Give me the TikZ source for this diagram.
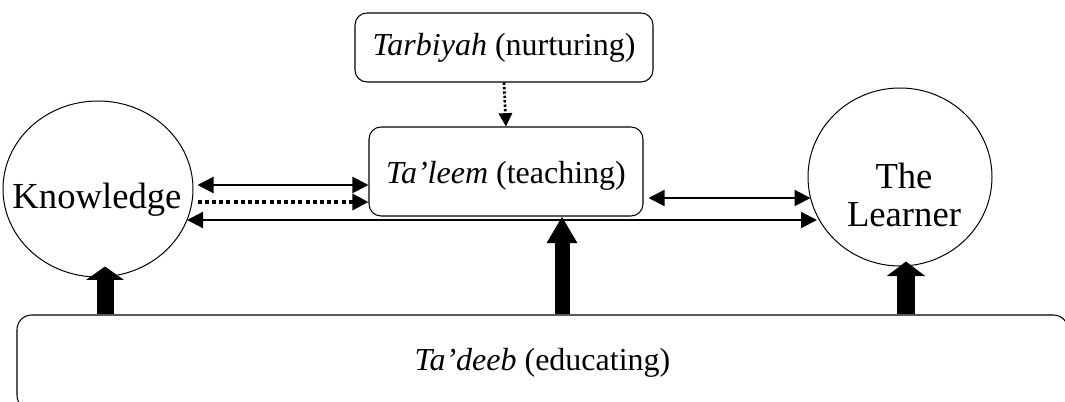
\documentclass[tikz,border=0pt]{standalone}
\usepackage{fontspec}
\setmainfont{Liberation Serif}
\usetikzlibrary{arrows.meta,shapes.geometric,calc}
\begin{document}
\begin{tikzpicture}[x=0.75pt,y=-0.75pt,
  conceptbox/.style={draw, line width=0.8pt, rounded corners=9pt, inner sep=0pt,
    font=\fontsize{24}{28}\selectfont},
  roundel/.style={draw, ellipse, line width=0.75pt, inner sep=0pt},
  roundeltext/.style={font=\fontsize{27.5}{29}\selectfont, align=center, inner sep=0pt},
  twoway/.style={line width=1.6pt, {Triangle[length=12pt,width=12pt]}-{Triangle[length=12pt,width=12pt]}},
  dotlink/.style={line width=2.4pt, dash pattern=on 3pt off 2.4pt,
    -{Triangle[length=12pt,width=12pt]}},
  vdotlink/.style={line width=2pt, dash pattern=on 1.8pt off 1.5pt,
    -{Triangle[length=10pt,width=10pt]}}
]
\useasboundingbox (0,0) rectangle (1065,402);
\clip (0,0) rectangle (1065,402);

% concepts
\node[conceptbox, rounded corners=11pt, minimum width={1051*0.75pt}, minimum height={95*0.75pt}]
  (tadeeb) at (542.5,362.5) {\textit{Ta’deeb} (educating)};
\node[conceptbox, minimum width={274*0.75pt}, minimum height={89*0.75pt},
  text height=18pt, text depth=0pt]
  (taleem) at (506,171.5) {\textit{Ta’leem} (teaching)};
\node[conceptbox, minimum width={298*0.75pt}, minimum height={69*0.75pt}]
  (tarbiyah) at (504,47.5) {\textit{Tarbiyah} (nurturing)};
\node[roundel, minimum width={190*0.75pt}, minimum height={176*0.75pt}] (knowledge) at (98,189) {};
\node[roundeltext] (knowledgetext) at (97,200) {Knowledge};
\node[roundel, minimum width={184*0.75pt}, minimum height={178*0.75pt}] (learner) at (900,177) {};
\node[roundeltext] (learnertext) at (904,195) {The\\Learner};

% links between the concepts
\draw[vdotlink] (tarbiyah.south) -- (taleem.north);
\draw[twoway] ($(knowledge.east |- taleem.west)+(4,13.5)$) -- ($(taleem.west)+(0,13.5)$);
\draw[dotlink] ($(knowledge.east |- taleem.west)+(4,30.5)$) -- ($(taleem.west)+(0,30.5)$);
\draw[twoway] ($(taleem.east)+(5,26.5)$) -- ($(learner.west)+(3,21)$);
\draw[twoway] ($(knowledge.center)+(89,31)$) -- ($(learner.center)+(-83,43)$);

% upward arrows from Ta'deeb
\coordinate (kTip) at ($(knowledge.south)+(7,-11)$);
\coordinate (mTip) at ($(taleem.south)+(56,0)$);
\coordinate (lTip) at ($(learner.south)+(6,-5)$);
\draw[line width=12.75pt, -{Triangle[length=10pt,width=27.75pt]}] (kTip |- tadeeb.north) -- (kTip);
\draw[line width=11.25pt, -{Triangle[length=20pt,width=21.75pt]}] (mTip |- tadeeb.north) -- (mTip);
\draw[line width=13.5pt, -{Triangle[length=11pt,width=28.5pt]}] (lTip |- tadeeb.north) -- (lTip);
\end{tikzpicture}
\end{document}
